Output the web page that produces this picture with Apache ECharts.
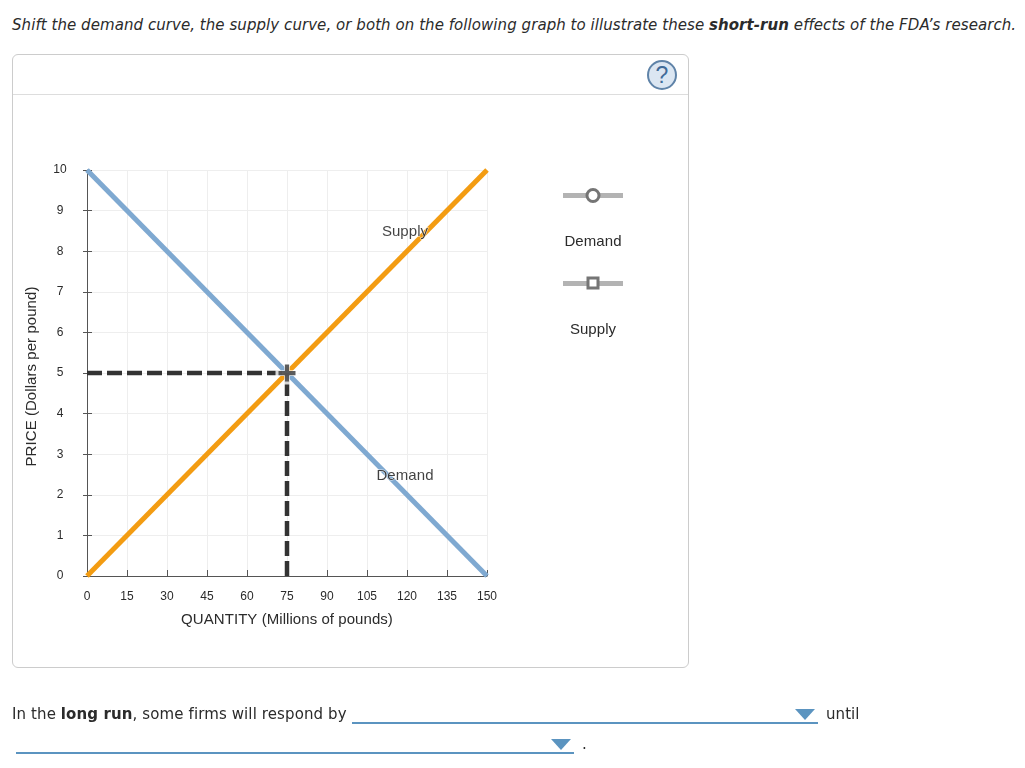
<!DOCTYPE html>
<html>
<head>
<meta charset="utf-8">
<title>Short-run effects</title>
<script src="https://cdn.jsdelivr.net/npm/echarts@6/dist/echarts.min.js"></script>
<style>
    html, body { margin: 0; padding: 0; background: #fff; overflow: hidden; }
    body { width: 1025px; height: 768px; position: relative; font-family: "DejaVu Sans", sans-serif; font-size: 15px; letter-spacing: 0.06px; color: #2b2b2b; }
    .abs { position: absolute; white-space: nowrap; }
    #panel { left: 12px; top: 54px; width: 675px; height: 612px; border: 1px solid #ccc; border-radius: 6px; }
    #panel_head { left: 13px; top: 94px; width: 675px; height: 1px; background: #ddd; }
    #help { left: 647px; top: 60px; width: 26px; height: 26px; border: 2px solid #5f83a8; border-radius: 50%; background: #dbe6f2; color: #3f6b99; font: 23px/26px "Liberation Sans", sans-serif; text-align: center; }
    #main { left: 0; top: 0; width: 1025px; height: 768px; }
    .drop { height: 2px; background: #5b94c0; }
    .arrow { width: 0; height: 0; border-left: 10px solid transparent; border-right: 10px solid transparent; border-top: 11px solid #5b94c0; }
</style>
</head>
<body>
<div class="abs" style="left:12px;top:16px;font-style:italic">Shift the demand curve, the supply curve, or both on the following graph to illustrate these <b>short-run</b> effects of the FDA’s research.</div>
<div class="abs" id="panel"></div>
<div class="abs" id="panel_head"></div>
<div class="abs" id="help">?</div>
<div class="abs" id="main"></div>
<div class="abs" style="left:12px;top:705px;letter-spacing:0.11px">In the <b>long run</b>, some firms will respond by</div>
<div class="abs drop" style="left:352px;top:722px;width:466px"></div>
<div class="abs arrow" style="left:795px;top:709px"></div>
<div class="abs" style="left:826px;top:705px">until</div>
<div class="abs drop" style="left:16px;top:752px;width:558px"></div>
<div class="abs arrow" style="left:551px;top:739px"></div>
<div class="abs" style="left:582px;top:735px">.</div>
<script>
// 座標軸
const quantityTicks = [0, 15, 30, 45, 60, 75, 90, 105, 120, 135, 150];
const priceTicks = [0, 1, 2, 3, 4, 5, 6, 7, 8, 9, 10];

// 曲線
const demandLine = [[0, 10], [150, 0]];
const supplyLine = [[0, 0], [150, 10]];
const priceGuide = [[0, 5], [75, 5]];
const quantityGuide = [[75, 0], [75, 5]];
const equilibrium = [[75, 5]];

// 曲線上的文字
const curveLabels = [
    ["Supply", 119.25, 8.47],
    ["Demand", 119.25, 2.47]
];

// 右邊的圖例
const legendNames = ["Demand", "Supply"];

const axisColor = "#555";
const textColor = "#2b2b2b";
const labelFont = "Liberation Sans";
const plusPath = "path://M3 0H5V3H8V5H5V8H3V5H0V3H3Z";

let chart = echarts.init(document.getElementById("main"));

function lineSeries(data, color, width, dashed) {
    return {
        type: "line",
        data: data,
        symbol: "none",
        silent: true,
        lineStyle: {
            color: color,
            width: width,
            type: dashed ? [15, 5] : "solid"
        }
    };
}

function plusSeries(size, color, z) {
    return {
        type: "scatter",
        data: equilibrium,
        silent: true,
        symbol: plusPath,
        symbolSize: size,
        itemStyle: { color: color },
        z: z
    };
}

function legendRow(y, name, marker) {
    return [
        {
            type: "rect",
            shape: { x: 563, y: y - 2, width: 60, height: 5 },
            style: { fill: "#b3b3b3" }
        },
        marker,
        {
            type: "text",
            x: 593,
            y: y + 47,
            style: {
                text: name,
                fill: textColor,
                font: "15px " + labelFont,
                align: "center",
                verticalAlign: "middle"
            }
        }
    ];
}

let markerStyle = { fill: "#fff", stroke: "#757575", lineWidth: 3 };

let option = {
    animation: false,
    grid: { left: 87, top: 170, width: 400, height: 406, containLabel: false },
    xAxis: {
        type: "value",
        min: 0,
        max: 150,
        interval: 15,
        name: "QUANTITY (Millions of pounds)",
        nameLocation: "middle",
        nameGap: 36,
        nameTextStyle: { fontFamily: labelFont, fontSize: 15, color: textColor },
        axisLine: { lineStyle: { color: axisColor, width: 1 } },
        axisTick: { inside: true, length: 6, lineStyle: { color: axisColor } },
        axisLabel: {
            fontFamily: labelFont, fontSize: 12, color: textColor, margin: 15,
            formatter: (v) => quantityTicks.includes(v) ? String(v) : ""
        },
        splitLine: { show: true, lineStyle: { color: "#eeeeee", width: 1 } }
    },
    yAxis: [
        {
            type: "value",
            min: 0,
            max: 10,
            interval: 1,
            name: "PRICE (Dollars per pound)",
            nameLocation: "middle",
            nameGap: 48,
            nameTextStyle: { fontFamily: labelFont, fontSize: 15, color: textColor, padding: [0, 7, 0, 0] },
            axisLine: { show: true, lineStyle: { color: axisColor, width: 1 } },
            axisTick: { show: true, length: 4, lineStyle: { color: axisColor } },
            axisLabel: {
                fontFamily: labelFont, fontSize: 12, color: textColor, margin: 27, align: "center",
                formatter: (v) => priceTicks.includes(v) ? String(v) : ""
            },
            splitLine: { show: true, lineStyle: { color: "#eeeeee", width: 1 } }
        },
        {
            // 只畫軸內側的刻度
            type: "value",
            position: "left",
            min: 0,
            max: 10,
            interval: 1,
            axisLine: { show: false },
            axisTick: { show: true, inside: true, length: 5, lineStyle: { color: axisColor } },
            axisLabel: { show: false },
            splitLine: { show: false }
        }
    ],
    series: [
        lineSeries(supplyLine, "#f39c12", 5),
        lineSeries(demandLine, "#7fa9d1", 5),
        lineSeries(priceGuide, "#333333", 4.5, true),
        lineSeries(quantityGuide, "#333333", 4.5, true),
        plusSeries(23, "#ffffff", 4),
        plusSeries(17, "#333333", 5),
        {
            type: "scatter",
            data: curveLabels.map((d) => ({ name: d[0], value: [d[1], d[2]] })),
            silent: true,
            symbolSize: 0,
            label: {
                show: true,
                position: "inside",
                formatter: "{b}",
                fontFamily: labelFont,
                fontSize: 15,
                color: "#111111",
                textBorderColor: "#fff",
                textBorderWidth: 1
            },
            z: 6
        }
    ],
    graphic: [
        ...legendRow(195, legendNames[0], {
            type: "circle",
            shape: { cx: 593, cy: 195.5, r: 6 },
            style: markerStyle,
            z: 10
        }),
        ...legendRow(283, legendNames[1], {
            type: "rect",
            shape: { x: 588, y: 278, width: 10, height: 10 },
            style: markerStyle,
            z: 10
        })
    ]
};

chart.setOption(option);
</script>
</body>
</html>
